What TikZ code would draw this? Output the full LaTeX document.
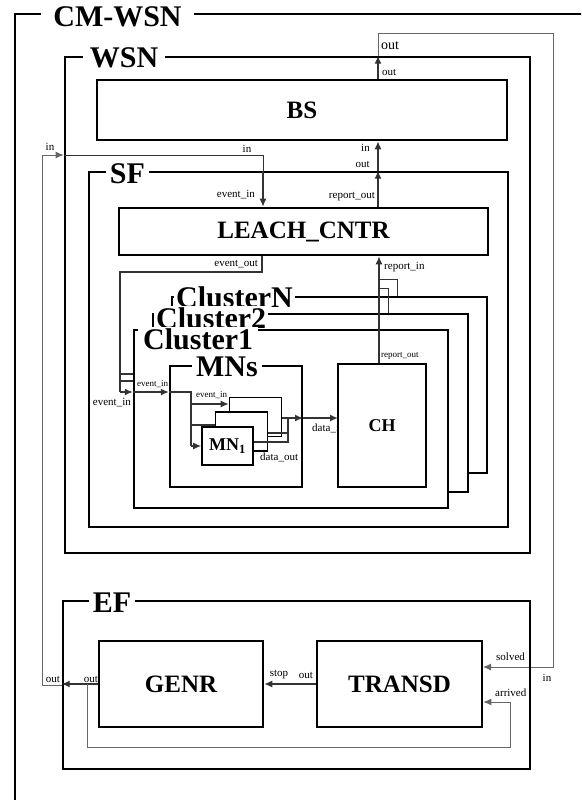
\documentclass[tikz,border=0pt]{standalone}
\usepackage{fontspec}
\setmainfont{Liberation Serif}
\usetikzlibrary{arrows.meta}

\begin{document}
\begin{tikzpicture}[x=1pt,y=-1pt,>={Latex[length=8pt,width=7pt]}]
  \tikzstyle{frame}=[draw,line width=2.6pt,inner sep=0pt]
  \tikzstyle{cluster}=[frame,fill=white,line width=2.3pt]
  \tikzstyle{title}=[fill=white,inner xsep=4pt,inner ysep=1pt,font=\fontsize{30}{30}\selectfont\bfseries]
  \tikzstyle{model}=[draw,fill=white,line width=2.6pt,font=\fontsize{25}{25}\selectfont\bfseries]
  \tikzstyle{atomic}=[draw,fill=white,line width=1.6pt,font=\fontsize{18}{18}\selectfont\bfseries]
  \tikzstyle{lbl}=[inner sep=1pt,font=\fontsize{11}{11}\selectfont]
  \tikzstyle{smalllbl}=[inner sep=1pt,font=\fontsize{9}{9}\selectfont]
  \tikzstyle{conn}=[draw=black!80,line width=1.3pt]
  \tikzstyle{ext}=[draw=black!60,line width=0.9pt]

  \useasboundingbox (0,0) rectangle (581,800);
  \clip (0,0) rectangle (581,800);

  \coordinate (inL)   at (42,155);
  \coordinate (inR)   at (263,155);
  \coordinate (repB)  at (378,0);
  \coordinate (topL)  at (378,33);
  \coordinate (topR)  at (553,33);
  \coordinate (solv)  at (553,667);
  \coordinate (evTop) at (262,272);
  \coordinate (evBend) at (120,272);
  \coordinate (evIn)  at (120,392);
  \coordinate (evN)   at (120,374);
  \coordinate (ev2)   at (120,381);
  \coordinate (mnBus) at (191,392);
  \coordinate (mnEvN) at (191,404);
  \coordinate (mnEv2) at (191,425);
  \coordinate (dBus)  at (288,418);
  \coordinate (dOut2) at (288,433);
  \coordinate (dOut1) at (288,442);
  \coordinate (repC)  at (379,0);
  \coordinate (repN)  at (397,279);
  \coordinate (rep2)  at (388,288);
  \coordinate (efo)   at (42,685);
  \coordinate (arrA)  at (87,747);
  \coordinate (arrB)  at (510,747);
  \coordinate (arrC)  at (510,702);

  \node[frame] (cmwsn) at (307.5,417) [minimum width=585pt,minimum height=806pt] {};
  \node[title,inner xsep=12pt] (tCmwsn) at (117.5,17) {CM-WSN};

  \node[frame] (wsn) at (297.5,305) [minimum width=465pt,minimum height=496pt] {};
  \node[title,inner xsep=7pt] (tWsn) at (124,58) {WSN};
  \node[model] (bs) at (302,110) [minimum width=410pt,minimum height=60pt] {BS};

  \node[frame] (sf) at (298.5,349.5) [minimum width=419pt,minimum height=355pt] {};
  \node[title] (tSf) at (127.5,174) {SF};
  \node[model] (leach) at (303.5,231.5) [minimum width=369pt,minimum height=47pt] {LEACH\_CNTR};

  \node[cluster] (clN) at (329.5,385) [minimum width=315pt,minimum height=176pt] {};
  \node[title,anchor=west,inner xsep=2pt] (tClN) at (174,297) {ClusterN};
  \draw[conn,->] (evN) -- (evN -| clN.west);
  \node[cluster] (cl2) at (310.5,403) [minimum width=315pt,minimum height=178pt] {};
  \node[title,anchor=west,inner xsep=2pt] (tCl2) at (154,318) {Cluster2};
  \draw[conn,->] (ev2) -- (ev2 -| cl2.west);
  \node[cluster] (cl1) at (291,419) [minimum width=314pt,minimum height=178pt] {};
  \node[title,anchor=west,inner xsep=5pt] (tCl1) at (138,339) {Cluster1};

  \node[frame,line width=2.3pt] (mns) at (236,426.5) [minimum width=132pt,minimum height=121pt] {};
  \node[title] (tMns) at (227,367) {MNs};
  \node[atomic] (mnN) at (255.5,417) [minimum width=52pt,minimum height=39pt] {};
  \node[atomic] (mn2) at (241.5,431.5) [minimum width=52pt,minimum height=39pt] {};
  \node[atomic] (mn1) at (227.5,446) [minimum width=51pt,minimum height=38pt] {MN\textsubscript{1}};

  \draw[conn] (leach.south -| evTop) -- (evTop) -- (evBend) -- (evIn);
  \draw[conn,->] (evIn) -- (evIn -| cl1.west);
  \draw[conn,->] (evIn -| cl1.west) -- (evIn -| mns.west);
  \draw[conn] (evIn -| mns.west) -- (mnBus) -- (mnBus |- mn1.west);
  \draw[conn,->] (mnBus |- mn1.west) -- (mn1.west);
  \draw[conn,->] (mnEvN) -- (mnEvN -| mnN.west);
  \draw[conn] (mnEv2) -- (mnEv2 -| mn2.west);
  \draw[conn,->,line width=1.6pt] (dBus -| mnN.east) -- (dBus -| mns.east);
  \draw[conn] (dOut2 -| mn2.east) -- (dOut2);
  \draw[conn] (dOut1 -| mn1.east) -- (dOut1) -- (dBus);
  \draw[conn,->,line width=1.6pt] (dBus -| mns.east) -- (dBus -| 338,0);

  \node[lbl,anchor=west] (lDataIn) at (311,428) {data\_in};
  \node[atomic,line width=2pt] (ch) at (382,425.5) [minimum width=88pt,minimum height=123pt] {CH};

  \draw[conn,->] (ch.north -| repC) -- (leach.south -| repC);
  \draw[conn,line width=0.9pt] (repN |- clN.north) -- (repN) -- (repN -| repC);
  \draw[conn,line width=0.9pt] (rep2 |- cl2.north) -- (rep2) -- (rep2 -| repC);

  \draw[conn,->] (leach.north -| repB) -- (sf.north -| repB);
  \draw[conn,->] (sf.north -| repB) -- (bs.south -| repB);
  \draw[conn,->] (bs.north -| repB) -- (wsn.north -| repB);
  \draw[ext,->] (wsn.north -| repB) -- (topL) -- (topR) -- (solv) -- (solv -| 483,0);

  \draw[conn,line width=1pt] (inL -| wsn.west) -- (inR) -- (inR |- sf.north);
  \draw[conn,->] (inR |- sf.north) -- (inR |- leach.north);

  \node[frame] (ef) at (296.5,685) [minimum width=467pt,minimum height=168pt] {};
  \node[title] (tEf) at (112,603) {EF};
  \node[model] (genr) at (181,684) [minimum width=164pt,minimum height=86pt] {GENR};
  \node[model] (transd) at (399.5,684) [minimum width=165pt,minimum height=86pt] {TRANSD};

  \draw[conn,->] (transd.west) -- (genr.east);
  \draw[conn,->] (genr.west) -- (genr.west -| ef.west);
  \draw[ext,->] (ef.west |- efo) -- (efo) -- (inL) -- (inL -| wsn.west);
  \draw[ext,->] (genr.west -| arrA) -- (arrA) -- (arrB) -- (arrC) -- (arrC -| transd.east);

  \node[lbl] (lIn1) at (50,147) {in};
  \node[lbl] (lIn2) at (247,149) {in};
  \node[lbl,anchor=east] (lEvIn) at (256,195) {event\_in};
  \node[lbl,anchor=east] (lRepOut) at (376,197) {report\_out};
  \node[lbl,anchor=east] (lOutSf) at (371,164) {out};
  \node[lbl,anchor=east] (lInBs) at (371,148) {in};
  \node[lbl,anchor=west] (lOutBs) at (381,72) {out};
  \node[lbl,anchor=west,font=\fontsize{14}{14}\selectfont] (lOutWsn) at (380,46) {out};
  \node[lbl,anchor=east] (lEvOut) at (259,264) {event\_out};
  \node[lbl,anchor=west] (lRepIn) at (383,267) {report\_in};
  \node[smalllbl,anchor=west] (lRepOutCh) at (380,356) {report\_out};
  \node[lbl,anchor=east] (lEvInCl) at (132,403) {event\_in};
  \node[smalllbl,anchor=west] (lEvInMns) at (136,384) {event\_in};
  \node[smalllbl,anchor=west] (lEvInMn) at (195,395) {event\_in};
  \node[lbl,anchor=west] (lDataOut) at (259,457) {data\_out};
  \node[lbl] (lOutEf) at (53,679) {out};
  \node[lbl] (lOutGenr) at (91,679) {out};
  \node[lbl] (lStop) at (279,675) {stop};
  \node[lbl] (lOutTr) at (306,675) {out};
  \node[lbl,anchor=west] (lSolved) at (495,657) {solved};
  \node[lbl,anchor=west] (lArrived) at (494,693) {arrived};
  \node[lbl] (lInEf) at (547,678) {in};
\end{tikzpicture}
\end{document}
